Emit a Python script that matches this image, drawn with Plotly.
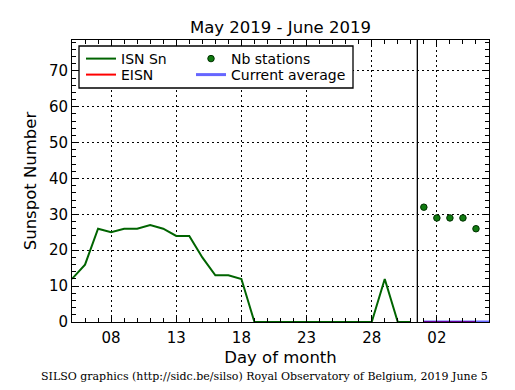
import plotly.graph_objects as go

# ---- data (x = day number counted from May 1; June d = 31 + d) ----
isn_days = list(range(5, 32))  # May 5 .. May 31
isn_values = [12, 16, 26, 25, 26, 26, 27, 26, 24, 24, 18, 13, 13, 12,
              0, 0, 0, 0, 0, 0, 0, 0, 0, 0, 12, 0, 0]
eisn_days = [32, 33, 34, 35, 36]          # June 1 .. June 5
eisn_values = [0, 0, 0, 0, 0]
nb_days = [32, 33, 34, 35, 36]            # June 1 .. June 5
nb_values = [32, 29, 29, 29, 26]
avg_days = [32, 33, 34, 35, 36, 37]
avg_values = [0, 0, 0, 0, 0, 0]
month_boundary = 31.5
tick_days = [8, 13, 18, 23, 28, 33]
tick_labels = ["08", "13", "18", "23", "28", "02"]
x_range = [5, 37]
y_range = [0, 78.6]

FONT = "DejaVu Sans, Verdana, sans-serif"

# page has an 8px body margin; size the figure so plot area lands at x 72-489, y 40-322
OFF = 8
W, H = 515 - OFF, 390 - OFF
PL, PR, PT, PB = 72 - OFF, 26, 40 - OFF, 68
pw, ph = W - PL - PR, H - PT - PB


def px_x(p):  # screen px -> paper
    return (p - OFF - PL) / pw


def px_y(p):
    return 1 - (p - OFF - PT) / ph


fig = go.Figure()
fig.add_trace(go.Scatter(x=isn_days, y=isn_values, mode="lines", name="ISN Sn",
                         line=dict(color="#006400", width=2), legend="legend"))
fig.add_trace(go.Scatter(x=eisn_days, y=eisn_values, mode="lines", name="EISN",
                         line=dict(color="#ff0000", width=2), legend="legend2"))
fig.add_trace(go.Scatter(x=nb_days, y=nb_values, mode="markers", name="Nb stations",
                         marker=dict(color="#107a10", size=6.5,
                                     line=dict(color="#003000", width=1)),
                         legend="legend3"))
fig.add_trace(go.Scatter(x=avg_days, y=avg_values, mode="lines", name="Current average",
                         line=dict(color="#0000ff", width=3), opacity=0.6,
                         legend="legend4"))

fig.add_shape(type="line", xref="x", yref="paper", x0=month_boundary, x1=month_boundary,
              y0=0, y1=1, line=dict(color="black", width=1.3), layer="above")
fig.add_shape(type="rect", xref="paper", yref="paper",
              x0=px_x(79), x1=px_x(353), y0=px_y(88), y1=px_y(46),
              line=dict(color="black", width=1.3), fillcolor="white", layer="above")

axis_common = dict(
    showline=True, linecolor="black", linewidth=1, mirror="allticks",
    ticks="inside", ticklen=7, tickcolor="black",
    showgrid=True, gridcolor="black", gridwidth=1, griddash="2px,3px",
    zeroline=False, tickfont=dict(family=FONT, size=15, color="black"),
)


def leg(xp, yp):
    return dict(x=px_x(xp), y=px_y(yp), xanchor="left", yanchor="top",
                bgcolor="rgba(0,0,0,0)", borderwidth=0,
                font=dict(family=FONT, size=14, color="black"))


fig.update_layout(
    width=W, height=H,
    margin=dict(l=PL, r=PR, t=PT, b=PB),
    paper_bgcolor="white", plot_bgcolor="white",
    font=dict(family=FONT, color="black"),
    title=dict(text="May 2019 - June 2019", x=0.5, xref="paper", xanchor="center",
               y=1 - (27 - OFF) / H, yref="container", yanchor="middle",
               font=dict(family=FONT, size=16.5, color="black")),
    xaxis=dict(range=x_range, tickvals=tick_days, ticktext=tick_labels,
               ticklabelstandoff=2,
               minor=dict(ticks="inside", ticklen=4, tickcolor="black",
                          tickvals=list(range(x_range[0], x_range[1] + 1)), showgrid=False),
               title=dict(text="Day of month", font=dict(family=FONT, size=16.5), standoff=5),
               **axis_common),
    yaxis=dict(range=y_range, dtick=10, tick0=0,
               minor=dict(ticks="inside", ticklen=4, tickcolor="black", dtick=2,
                          showgrid=False),
               title=dict(text="Sunspot Number", font=dict(family=FONT, size=16.5), standoff=8),
               **axis_common),
    legend=leg(81, 43),
    legend2=leg(81, 59),
    legend3=leg(191, 43),
    legend4=leg(191, 59),
    showlegend=True,
)

fig.add_annotation(text="SILSO graphics (http://sidc.be/silso) Royal Observatory of Belgium, 2019 June 5",
                   xref="paper", yref="paper", x=px_x(264), y=px_y(376),
                   xanchor="center", yanchor="middle", showarrow=False,
                   font=dict(family="DejaVu Serif, serif", size=11, color="black"))

fig.write_html("out.html")
